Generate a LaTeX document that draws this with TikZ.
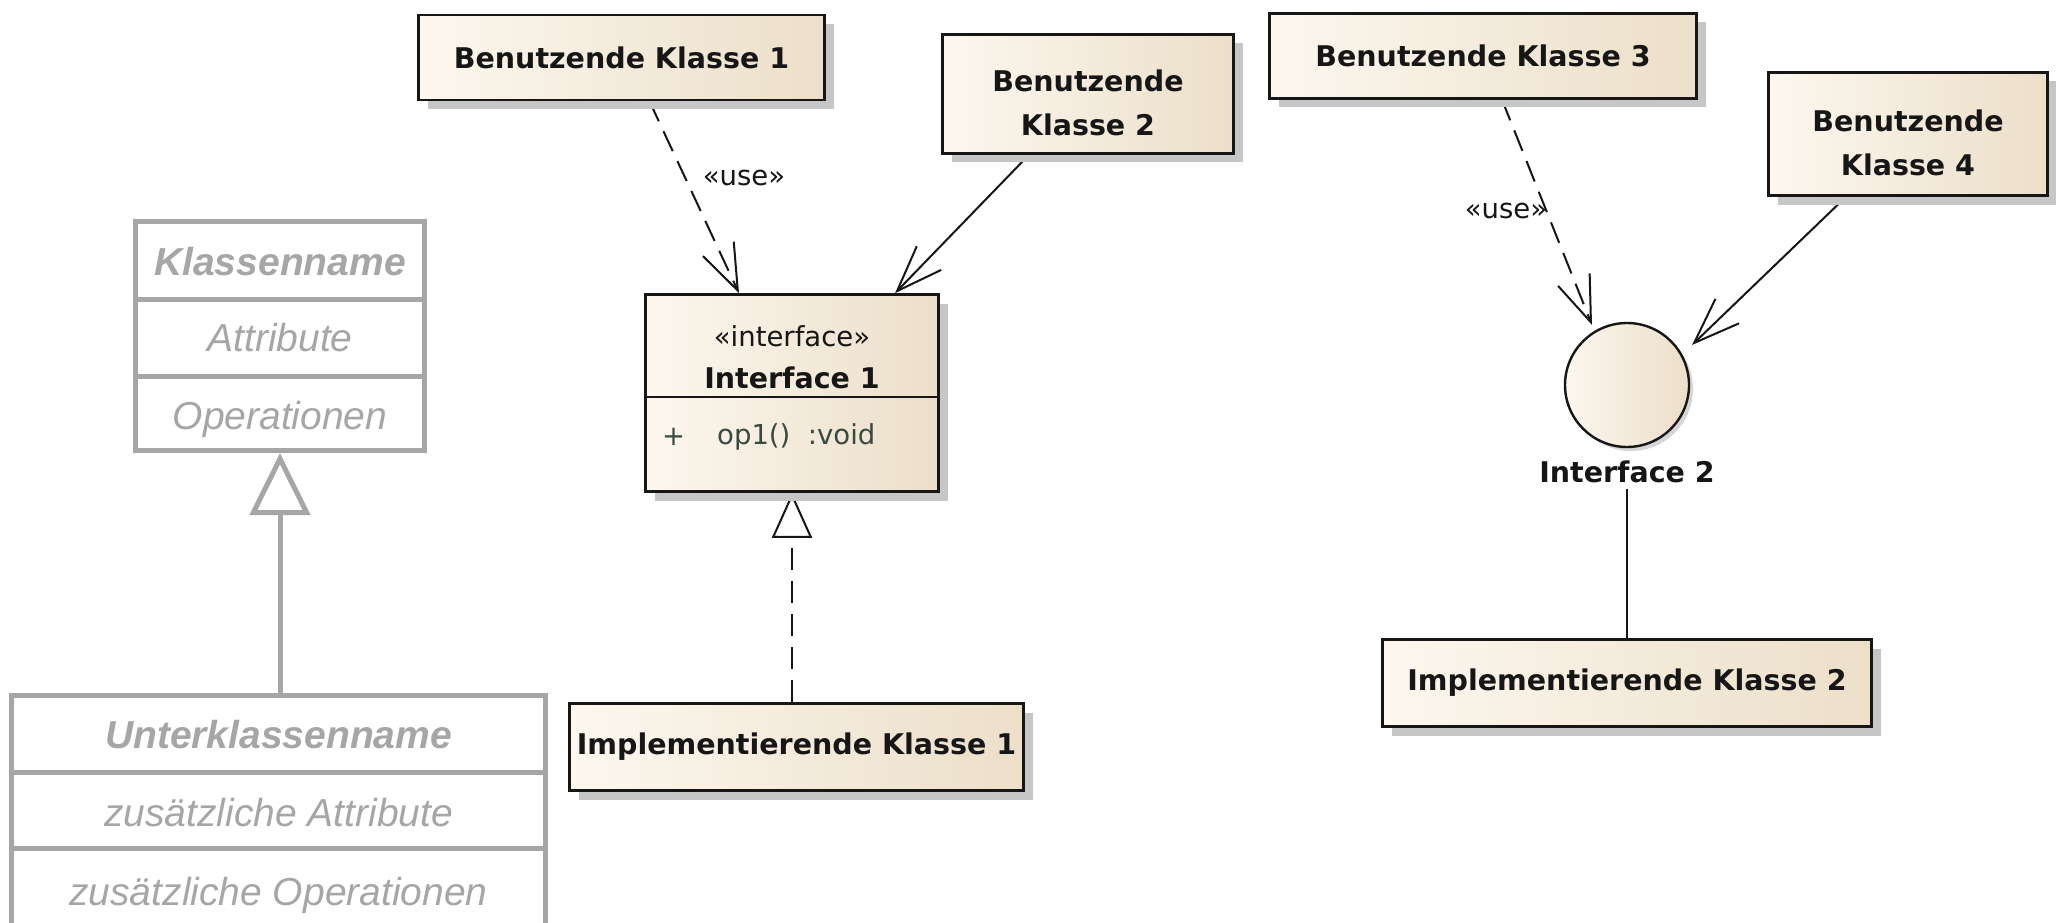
\documentclass[tikz,border=0pt]{standalone}
\usepackage{fontspec}
\setmainfont{DejaVu Sans}
\newfontfamily\umlfont{Liberation Sans}
\usetikzlibrary{arrows.meta,shadows}

\definecolor{eaLight}{RGB}{252,247,239}
\definecolor{eaDark}{RGB}{236,223,201}
\definecolor{eaShadow}{RGB}{198,198,198}
\definecolor{eaInk}{RGB}{22,22,22}
\definecolor{opInk}{RGB}{58,74,64}
\definecolor{umlGray}{RGB}{166,166,166}

\newcommand\eabold{\fontsize{28.5}{34}\selectfont\bfseries}
\newcommand\eaboldtwo{\fontsize{28.5}{44}\selectfont\bfseries}
\newcommand\eareg{\fontsize{27.5}{33}\selectfont}
\newcommand\umlbf{\umlfont\fontsize{39}{45}\selectfont\bfseries\itshape}
\newcommand\umlit{\umlfont\fontsize{39}{45}\selectfont\itshape}

\pgfdeclarelayer{bg}
\pgfsetlayers{bg,main}

\tikzset{
  eabox/.style={draw=eaInk, line width=2.6pt, left color=eaLight, right color=eaDark,
    drop shadow={shadow xshift=9pt, shadow yshift=-9pt, fill=eaShadow, opacity=1},
    inner sep=0pt, align=center, font=\eabold, text=eaInk},
  eaboxtwo/.style={eabox, font=\eaboldtwo, text height=84pt},
  eacircle/.style={circle, draw=eaInk, line width=2.4pt, left color=eaLight, right color=eaDark,
    drop shadow={shadow xshift=4pt, shadow yshift=-4pt, fill=eaShadow, opacity=0.7},
    inner sep=0pt},
  ealabel/.style={font=\eareg, text=eaInk, inner sep=0pt},
  ealine/.style={draw=eaInk, line width=2pt},
  eadash/.style={ealine, dash pattern=on 22pt off 11pt},
  eaopen/.style={-{Straight Barb[length=46pt, width=34pt, line width=2pt]}},
  eareal/.style={-{Triangle[open, length=45pt, width=40pt, line width=2pt]}},
  umlbox/.style={draw=umlGray, line width=5pt, fill=white, inner sep=0pt},
  umlline/.style={draw=umlGray, line width=5pt},
  umlname/.style={font=\umlbf, text=umlGray, anchor=base, inner sep=0pt},
  umlitem/.style={font=\umlit, text=umlGray, anchor=base, inner sep=0pt},
}

\begin{document}
\begin{tikzpicture}[x=1pt, y=-1pt]
\useasboundingbox (0,0) rectangle (2056,923);
\clip (0,0) rectangle (2056,923);

% ---------- generic class with subclass (grey) ----------
\node[umlbox, minimum width=289pt, minimum height=229pt] (sup) at (280,336) {};
\draw[umlline] (sup.west |- 0,299) -- (sup.east |- 0,299);
\draw[umlline] (sup.west |- 0,376) -- (sup.east |- 0,376);
\node[umlname] (supname) at (280,275) {Klassenname};
\node[umlitem] (supattr) at (280,351) {Attribute};
\node[umlitem] (supops) at (280,429) {Operationen};

\node[umlbox, minimum width=534pt, minimum height=231pt] (sub) at (278.5,811) {};
\draw[umlline] (sub.west |- 0,772) -- (sub.east |- 0,772);
\draw[umlline] (sub.west |- 0,848) -- (sub.east |- 0,848);
\node[umlname] (subname) at (278.5,748) {Unterklassenname};
\node[umlitem] (subattr) at (278.5,826) {zusätzliche Attribute};
\node[umlitem] (subops) at (278.5,905) {zusätzliche Operationen};

\draw[umlline, -{Triangle[open, length=62pt, width=60pt, line width=5pt]}]
  (sub.north -| sup.south) -- (sup.south);

% ---------- interface 1 with its users and implementer ----------
\node[eabox, minimum width=406pt, minimum height=85pt] (bk1) at (621.5,57.5) {Benutzende Klasse 1};
\node[eaboxtwo, minimum width=291pt, minimum height=119pt] (bk2) at (1088,94) {Benutzende\\Klasse 2};
\node[eabox, minimum width=293pt, minimum height=197pt] (if1) at (792,393) {};
\draw[ealine, line width=2.6pt] (if1.west |- 0,397) -- (if1.east |- 0,397);
\node[ealabel] (if1st) at (792,336) {«interface»};
\node[ealabel, font=\eabold] (if1nm) at (792,378) {Interface 1};
\node[ealabel, text=opInk, anchor=west] (if1vis) at (662,437) {+};
\node[ealabel, text=opInk, anchor=west] (if1op) at (717,437) {op1()\ \ :void};
\node[eabox, minimum width=454pt, minimum height=87pt] (impl1) at (796.5,747) {Implementierende Klasse 1};
\node[ealabel] (use1) at (744,178) {«use»};

% ---------- interface 2 (lollipop) with its users and implementer ----------
\node[eabox, minimum width=427pt, minimum height=85pt] (bk3) at (1483,56) {Benutzende Klasse 3};
\node[eaboxtwo, minimum width=279pt, minimum height=123pt] (bk4) at (1908,134) {Benutzende\\Klasse 4};
\node[eacircle, minimum size=124pt] (if2) at (1627,385) {};
\node[ealabel, font=\eabold] (if2lbl) at (1627,472) {Interface 2};
\node[eabox, minimum width=489pt, minimum height=87pt] (impl2) at (1627,683) {Implementierende Klasse 2};
\node[ealabel] (use2) at (1506,211) {«use»};

% ---------- connectors, kept beneath the boxes and their shadows ----------
\begin{pgfonlayer}{bg}
\fill[white] (0,0) rectangle (2056,923);
\draw[eadash, eaopen] ([xshift=28pt]bk1.south) -- ([xshift=-53pt]if1.north);
\draw[ealine, eaopen] ([xshift=-59pt]bk2.south) -- ([xshift=103pt]if1.north);
\draw[eadash, eareal] (impl1.north -| if1.south) -- (if1.south);
\draw[eadash, eaopen] ([xshift=19pt]bk3.south) -- ([xshift=-35pt, yshift=60pt]if2.center);
\draw[ealine, eaopen] ([xshift=-62pt]bk4.south) -- ([xshift=65pt, yshift=40pt]if2.center);
\draw[ealine] ([yshift=-6pt]if2lbl.south) -- (impl2.north);
\end{pgfonlayer}
\end{tikzpicture}
\end{document}
